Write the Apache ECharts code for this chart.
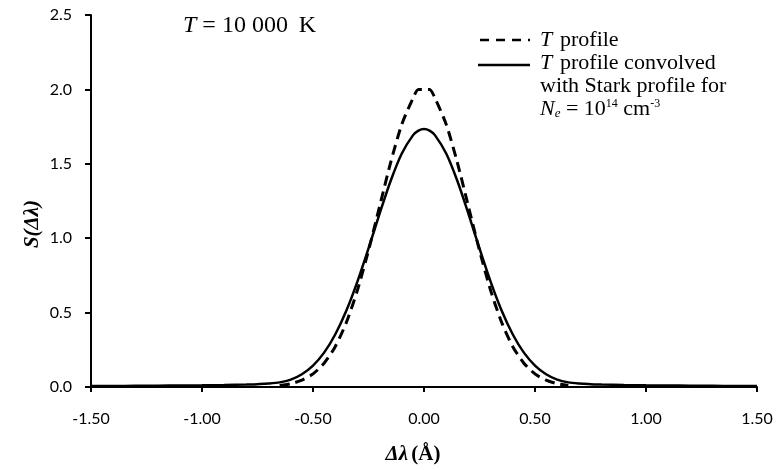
<!DOCTYPE html>
<html>
<head>
<meta charset="utf-8">
<script src="https://cdn.jsdelivr.net/npm/echarts@6/dist/echarts.min.js"></script>
<style>
  html, body { margin: 0; padding: 0; background: #fff; }
  #chart { width: 782px; height: 470px; }
</style>
</head>
<body>
<div id="chart"></div>
<script>
// Doppler (T) profile
const dlT = [-0.65, -0.6, -0.55, -0.5, -0.45, -0.4, -0.35, -0.3, -0.25, -0.2, -0.15, -0.1, -0.05, -0.025,
  0.025, 0.05, 0.1, 0.15, 0.2, 0.25, 0.3, 0.35, 0.4, 0.45, 0.5, 0.55, 0.6, 0.65]
const sT = [0.01, 0.022, 0.046, 0.088, 0.16, 0.271, 0.433, 0.65, 0.917, 1.214, 1.51, 1.765, 1.939, 2.0,
  2.0, 1.939, 1.765, 1.51, 1.214, 0.917, 0.65, 0.433, 0.271, 0.16, 0.088, 0.046, 0.022, 0.01]

// convolved with Stark profile, solid curve
const dlConv = [-1.5, -1.4, -1.3, -1.2, -1.1, -1.0, -0.9, -0.8, -0.75, -0.7, -0.65, -0.6, -0.55, -0.5, -0.45,
  -0.4, -0.35, -0.3, -0.25, -0.2, -0.15, -0.1, -0.05, -0.025, 0, 0.025, 0.05, 0.1, 0.15, 0.2, 0.25, 0.3, 0.35, 0.4, 0.45,
  0.5, 0.55, 0.6, 0.65, 0.7, 0.75, 0.8, 0.9, 1.0, 1.1, 1.2, 1.3, 1.4, 1.5]
const sConv = [0.006, 0.007, 0.008, 0.009, 0.01, 0.011, 0.013, 0.016, 0.019, 0.023, 0.031, 0.05, 0.086, 0.144, 0.231,
  0.353, 0.512, 0.708, 0.931, 1.165, 1.386, 1.569, 1.691, 1.723, 1.734, 1.723, 1.691, 1.569, 1.386, 1.165, 0.931, 0.708, 0.512, 0.353, 0.231,
  0.144, 0.086, 0.05, 0.031, 0.023, 0.019, 0.016, 0.013, 0.011, 0.01, 0.009, 0.008, 0.007, 0.006]

const xTicks = [-1.5, -1.0, -0.5, 0, 0.5, 1.0, 1.5]
const yTicks = [0, 0.5, 1.0, 1.5, 2.0, 2.5]

const serif = '"Liberation Serif", "Times New Roman", serif'
const sans = 'Lato, "Noto Sans", sans-serif'

const chart = echarts.init(document.getElementById('chart'))

const sub = { fontFamily: serif, fontSize: 13, fontStyle: 'italic', verticalAlign: 'bottom', lineHeight: 13 }
const sup = { fontFamily: serif, fontSize: 12, verticalAlign: 'top', lineHeight: 14 }
const it = { fontFamily: serif, fontSize: 22, fontStyle: 'italic', lineHeight: 23 }
const rm = { fontFamily: serif, fontSize: 22, lineHeight: 23 }

const option = {
  animation: false,
  backgroundColor: '#fff',
  grid: { left: 91, right: 25, top: 15, bottom: 83 },
  xAxis: {
    type: 'value',
    min: xTicks[0],
    max: xTicks[xTicks.length - 1],
    interval: 0.5,
    splitLine: { show: false },
    axisLine: { onZero: false, lineStyle: { color: '#000', width: 2 } },
    axisTick: { show: true, length: 5, lineStyle: { color: '#000', width: 2 } },
    axisLabel: {
      margin: 24,
      color: '#000',
      fontFamily: sans,
      fontSize: 16,
      formatter: v => v.toFixed(2),
    },
  },
  yAxis: {
    type: 'value',
    min: yTicks[0],
    max: yTicks[yTicks.length - 1],
    interval: 0.5,
    splitLine: { show: false },
    axisLine: { show: true, onZero: false, lineStyle: { color: '#000', width: 2 } },
    axisTick: { show: true, length: 6, lineStyle: { color: '#000', width: 2 } },
    axisLabel: {
      margin: 19,
      color: '#000',
      fontFamily: sans,
      fontSize: 16,
      formatter: v => v.toFixed(1),
    },
  },
  series: [
    {
      name: 'T profile',
      type: 'line',
      data: dlT.map((x, i) => [x, sT[i]]),
      showSymbol: false,
      smooth: 0.25,
      lineStyle: { color: '#000', width: 3, type: [10, 6] },
      z: 2,
    },
    {
      name: 'T profile convolved',
      type: 'line',
      data: dlConv.map((x, i) => [x, sConv[i]]),
      showSymbol: false,
      smooth: 0.3,
      lineStyle: { color: '#000', width: 2.5 },
      z: 3,
    },
  ],
  graphic: [
    {
      type: 'text', left: 183, top: 14,
      style: { text: '{i|T} = 10 000\u2009 K', rich: { i: { fontFamily: serif, fontSize: 24, fontStyle: 'italic' } }, font: '24px ' + serif, fill: '#000' },
    },
    {
      type: 'line', shape: { x1: 480, y1: 40, x2: 530, y2: 40 },
      style: { stroke: '#000', lineWidth: 2.5, lineDash: [9, 7] },
    },
    {
      type: 'line', shape: { x1: 478, y1: 65, x2: 530, y2: 65 },
      style: { stroke: '#000', lineWidth: 2.5 },
    },
    {
      type: 'text', left: 540, top: 29,
      style: {
        text: '{i|T} {r|\u2009profile}\n{i|T} {r|\u2009profile convolved}\n{r|with Stark profile for}\n{i|N}{sub|e}{r| = 10}{sup|14}{r| cm}{sup|-3}',
        rich: { i: it, r: rm, sub: sub, sup: sup },
        fill: '#000',
      },
    },
    {
      type: 'text', x: 33, y: 224, rotation: Math.PI / 2,
      style: {
        text: 'S(Δλ)', fontFamily: serif, fontSize: 21, fontStyle: 'italic', fontWeight: 'bold',
        fill: '#000', align: 'center', verticalAlign: 'middle',
      },
    },
    {
      type: 'text', x: 413, y: 455,
      style: {
        text: '{i|Δλ} {b|(Å)}',
        rich: {
          i: { fontFamily: serif, fontSize: 21, fontStyle: 'italic', fontWeight: 'bold' },
          b: { fontFamily: serif, fontSize: 21, fontWeight: 'bold' },
        },
        fill: '#000', align: 'center', verticalAlign: 'middle',
      },
    },
  ],
}

chart.setOption(option)
</script>
</body>
</html>
